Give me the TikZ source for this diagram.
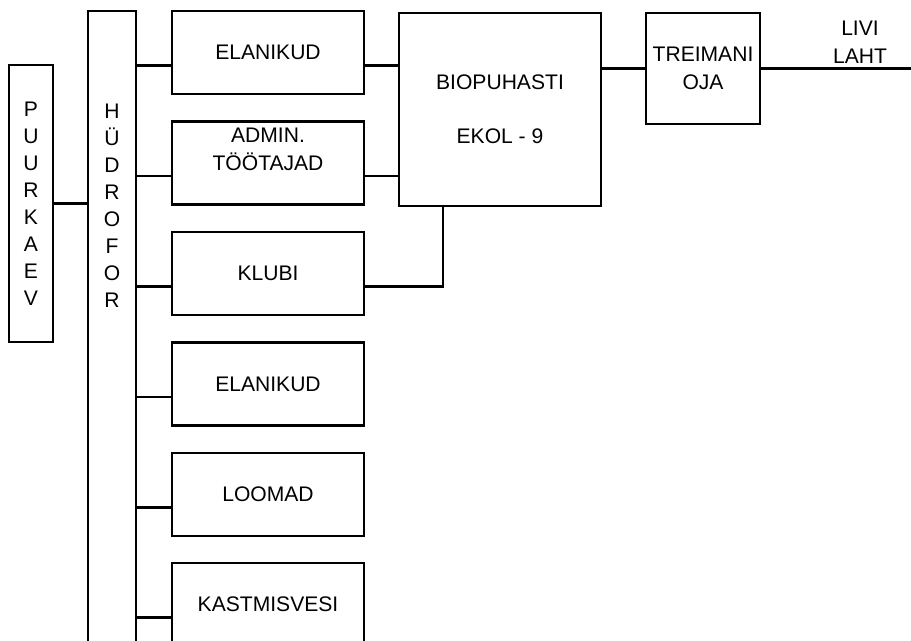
\documentclass[tikz,border=0pt]{standalone}
\usepackage{fontspec}
\setmainfont{Liberation Sans}
\usetikzlibrary{positioning,calc}

\begin{document}
\begin{tikzpicture}[
    x=0.02cm, y=-0.02cm,
    line width=1.3pt,
    every node/.append style={font=\fontsize{12}{16}\selectfont},
    unit/.style={rectangle, draw, line width=1.3pt, align=center, inner sep=0pt, minimum width=3.84cm, minimum height=1.66cm},
    tallbox/.style={rectangle, draw, line width=1.3pt, align=center, inner sep=0pt, minimum width=0.88cm, minimum height=5.54cm, font=\fontsize{12}{15.4}\selectfont},
    pipe/.style={draw, line width=1.3pt}
]
    \useasboundingbox (0,0) rectangle (911,640);

    % well and pressure tank
    \node [tallbox] (puur) at (31,203.5) {P\\U\\U\\R\\K\\A\\E\\V};
    \node [rectangle, draw, line width=1.3pt, minimum width=0.96cm, minimum height=13cm, anchor=north] (hud) at (112,10) {};
    \node [align=center, font=\fontsize{12}{15.4}\selectfont] (hudtext) at (112,205.5) {H\\Ü\\D\\R\\O\\F\\O\\R};

    % consumers
    \node [unit] (elan1) at (268,52.5) {ELANIKUD};
    \node [unit] (admin) at (268,163) {ADMIN.\\TÖÖTAJAD\\\mbox{}};
    \node [unit] (klubi) at (268,273.5) {KLUBI};
    \node [unit] (elan2) at (268,384) {ELANIKUD};
    \node [unit] (loomad) at (268,494.5) {LOOMAD};
    \node [unit] (kast) at (268,604.5) {KASTMISVESI};

    % treatment and outlet
    \node [rectangle, draw, line width=1.3pt, minimum width=4.04cm, minimum height=3.86cm, align=center, font=\fontsize{12}{31}\selectfont] (bio) at (500,109.5) {BIOPUHASTI\\EKOL - 9};
    \node [rectangle, draw, line width=1.3pt, minimum width=2.28cm, minimum height=2.22cm, inner sep=1pt, align=center] (tre) at (703,68.5) {TREIMANI\\OJA};
    \node [align=center] (livi) at (860,42.5) {LIVI\\LAHT};
    \coordinate (outlet) at (915,68.5);

    \draw [pipe] (puur.east) -- (puur.east -| hud.west);
    \draw [pipe] ([yshift=-0.26cm]elan1.west) coordinate (elan1-in) -- (elan1-in -| hud.east);
    \draw [pipe] ([yshift=-0.26cm]admin.west) coordinate (admin-in) -- (admin-in -| hud.east);
    \draw [pipe] ([yshift=-0.26cm]klubi.west) coordinate (klubi-in) -- (klubi-in -| hud.east);
    \draw [pipe] ([yshift=-0.26cm]elan2.west) coordinate (elan2-in) -- (elan2-in -| hud.east);
    \draw [pipe] ([yshift=-0.26cm]loomad.west) coordinate (loomad-in) -- (loomad-in -| hud.east);
    \draw [pipe] ([yshift=-0.26cm]kast.west) coordinate (kast-in) -- (kast-in -| hud.east);

    \draw [pipe] ([yshift=-0.26cm]elan1.east) coordinate (elan1-out) -- (elan1-out -| bio.west);
    \draw [pipe] ([yshift=-0.26cm]admin.east) coordinate (admin-out) -- (admin-out -| bio.west);
    \draw [pipe] ([yshift=-0.26cm]klubi.east) -| ($(bio.south west)+(45,0)$);
    \draw [pipe] (bio.east |- tre.west) -- (tre.west);
    \draw [pipe] (tre.east) -- (outlet);
\end{tikzpicture}
\end{document}
